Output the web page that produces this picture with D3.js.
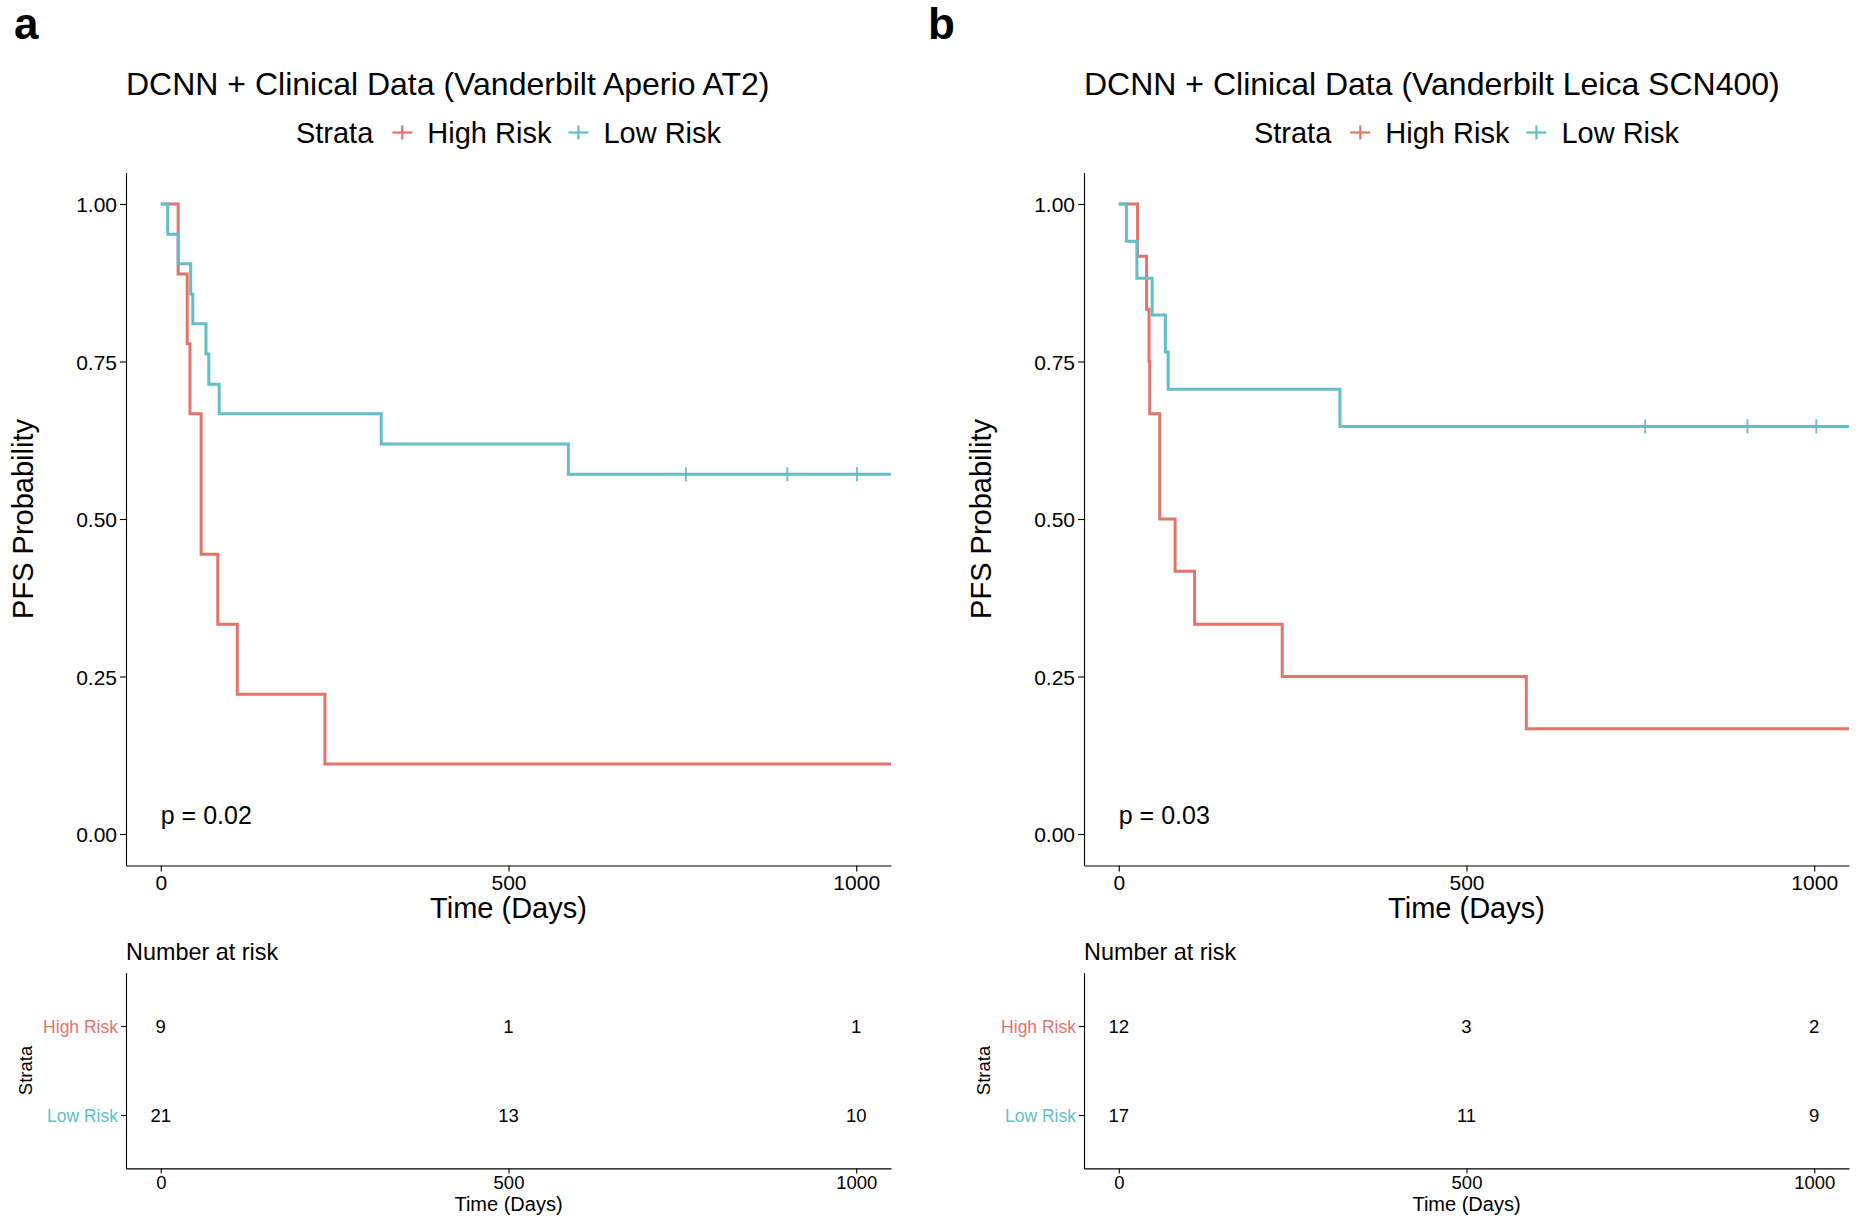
<!DOCTYPE html>
<html><head><meta charset="utf-8">
<script src="https://cdn.jsdelivr.net/npm/d3@7"></script>
<style>
body{margin:0;background:#fff}
svg{display:block}
text{font-family:"Liberation Sans", Arial, Helvetica, sans-serif}
</style>
</head><body>
<svg id="chart" width="1860" height="1220"></svg>
<script>
// ---------- data ----------
const strata = ["High Risk", "Low Risk"];
const strataColors = ["#E2746C", "#62BFC6"];
const panelLetters = ["a", "b"];
const titles = ["DCNN + Clinical Data (Vanderbilt Aperio AT2)", "DCNN + Clinical Data (Vanderbilt Leica SCN400)"];
const pValues = ["p = 0.02", "p = 0.03"];
const xTicks = [0, 500, 1000];
const yTicks = [0, 0.25, 0.5, 0.75, 1];
const riskTimes = [0, 500, 1000];

// panel a
const aHighTime = [0, 25, 38, 42, 58, 82, 110, 236];
const aHighSurv = [1, 0.889, 0.778, 0.667, 0.444, 0.333, 0.222, 0.111];
const aHighCensor = [];
const aLowTime = [0, 10, 25, 43, 46, 65, 69, 84, 317, 586];
const aLowSurv = [1, 0.952, 0.905, 0.857, 0.810, 0.762, 0.714, 0.667, 0.619, 0.571];
const aLowCensor = [755, 901, 1001];
const aRiskHigh = [9, 1, 1];
const aRiskLow = [21, 13, 10];

// panel b
const bHighTime = [0, 27, 40, 43.5, 44.5, 59, 81, 109, 235, 586];
const bHighSurv = [1, 0.917, 0.833, 0.75, 0.667, 0.5, 0.417, 0.333, 0.25, 0.167];
const bHighCensor = [];
const bLowTime = [0, 11, 26, 48, 67, 71, 318];
const bLowSurv = [1, 0.941, 0.882, 0.824, 0.765, 0.706, 0.647];
const bLowCensor = [757, 904, 1003];
const bRiskHigh = [12, 3, 2];
const bRiskLow = [17, 11, 9];

const panels = [
  {time: [aHighTime, aLowTime], surv: [aHighSurv, aLowSurv], censor: [aHighCensor, aLowCensor], risk: [aRiskHigh, aRiskLow]},
  {time: [bHighTime, bLowTime], surv: [bHighSurv, bLowSurv], censor: [bHighCensor, bLowCensor], risk: [bRiskHigh, bRiskLow]}
];

// ---------- layout ----------
const svg = d3.select("#chart");
const panelLeft = [126, 1084];
const letterX = [14, 928];
const plotW = 765;
const mainTop = 172.5, mainBottom = 865.5;
const riskTop = 972.6, riskBottom = 1168.4;
const axisStroke = 1.1;

panels.forEach((p, i) => {
  const L = panelLeft[i], R = L + plotW;
  const g = svg.append("g");
  const x = d3.scaleLinear().domain([-50, 1050]).range([L, R]);
  const y = d3.scaleLinear().domain([-0.05, 1.05]).range([mainBottom, mainTop]);

  // panel letter
  g.append("text").attr("x", letterX[i]).attr("y", 39).style("font-size", "44px").style("font-weight", "bold").style("fill", "#000").text(panelLetters[i]);
  // title
  g.append("text").attr("x", L).attr("y", 94.5).style("font-size", "32px").style("fill", "#000").text(titles[i]);

  // legend
  const lg = g.append("g");
  let cx = 0;
  const lt = lg.append("text").attr("x", cx).attr("y", 0).style("font-size", "29px").style("fill", "#000").text("Strata");
  cx += lt.node().getComputedTextLength() + 19;
  strata.forEach((s, k) => {
    const kg = lg.append("g").attr("transform", `translate(${cx},-10.5)`);
    kg.append("line").attr("x1", 0).attr("x2", 20).attr("y1", 0).attr("y2", 0).attr("stroke", strataColors[k]).attr("stroke-width", 2.2);
    kg.append("line").attr("x1", 10).attr("x2", 10).attr("y1", -7).attr("y2", 7).attr("stroke", strataColors[k]).attr("stroke-width", 2.2);
    cx += 20 + 15;
    const t = lg.append("text").attr("x", cx).attr("y", 0).style("font-size", "29px").style("fill", "#000").text(s);
    cx += t.node().getComputedTextLength() + (k < strata.length - 1 ? 17 : 0);
  });
  lg.attr("transform", `translate(${(L + R) / 2 - cx / 2},143)`);

  // axes
  const yAxis = g.append("g").attr("transform", `translate(${L},0)`)
    .call(d3.axisLeft(y).tickValues(yTicks).tickFormat(d3.format(".2f")).tickSize(6).tickSizeOuter(0).tickPadding(3));
  const xAxis = g.append("g").attr("transform", `translate(0,${mainBottom})`)
    .call(d3.axisBottom(x).tickValues(xTicks).tickFormat(d3.format("d")).tickSize(6).tickSizeOuter(0).tickPadding(4));
  [yAxis, xAxis].forEach(a => {
    a.selectAll("path.domain").attr("stroke", "#000").attr("stroke-width", axisStroke);
    a.selectAll(".tick line").attr("stroke", "#000").attr("stroke-width", axisStroke);
    a.selectAll(".tick text").style("font-size", "21px").style("fill", "#000").style("font-family", '"Liberation Sans", Arial, sans-serif');
  });
  xAxis.selectAll(".tick text").attr("dy", null).attr("y", 24);
  yAxis.selectAll(".tick text").attr("dy", "0.36em");

  // axis titles
  g.append("text").attr("x", (L + R) / 2).attr("y", 918).attr("text-anchor", "middle").style("font-size", "29px").style("fill", "#000").text("Time (Days)");
  g.append("text").attr("transform", `translate(${L - 93},${(mainTop + mainBottom) / 2}) rotate(-90)`)
    .attr("text-anchor", "middle").style("font-size", "29px").style("fill", "#000").text("PFS Probability");

  // curves (High first, Low on top)
  const line = d3.line().x(d => x(d[0])).y(d => y(d[1])).curve(d3.curveStepAfter);
  strata.forEach((s, k) => {
    const pts = p.time[k].map((t, j) => [t, p.surv[k][j]]);
    pts.push([x.domain()[1], p.surv[k][p.surv[k].length - 1]]);
    g.append("path").datum(pts).attr("d", line).attr("fill", "none")
      .attr("stroke", strataColors[k]).attr("stroke-width", 3).attr("stroke-linejoin", "miter");
    const lastS = p.surv[k][p.surv[k].length - 1];
    g.selectAll(null).data(p.censor[k]).enter().append("line")
      .attr("x1", d => x(d)).attr("x2", d => x(d))
      .attr("y1", y(lastS) - 7).attr("y2", y(lastS) + 7)
      .attr("stroke", strataColors[k]).attr("stroke-width", 1.8);
  });

  // p-value
  g.append("text").attr("x", x(0)).attr("y", y(0.03) + 9).style("font-size", "25px").style("fill", "#000").text(pValues[i]);

  // ---------- risk table ----------
  g.append("text").attr("x", L).attr("y", 959.5).style("font-size", "23.4px").style("fill", "#000").text("Number at risk");
  const yr = d3.scalePoint().domain(strata).range([riskTop, riskBottom]).padding(0.6);
  const ryAxis = g.append("g").attr("transform", `translate(${L},0)`)
    .call(d3.axisLeft(yr).tickSize(5).tickSizeOuter(0).tickPadding(3));
  const rxAxis = g.append("g").attr("transform", `translate(0,${riskBottom})`)
    .call(d3.axisBottom(x).tickValues(xTicks).tickFormat(d3.format("d")).tickSize(5).tickSizeOuter(0).tickPadding(3));
  [ryAxis, rxAxis].forEach(a => {
    a.selectAll("path.domain").attr("stroke", "#000").attr("stroke-width", axisStroke);
    a.selectAll(".tick line").attr("stroke", "#000").attr("stroke-width", axisStroke);
    a.selectAll(".tick text").style("font-family", '"Liberation Sans", Arial, sans-serif');
  });
  ryAxis.selectAll(".tick text").style("font-size", "17.5px").attr("dy", "0.36em")
    .style("fill", d => strataColors[strata.indexOf(d)]);
  rxAxis.selectAll(".tick text").style("font-size", "18.5px").style("fill", "#000").attr("dy", null).attr("y", 21);
  g.append("text").attr("x", (L + R) / 2).attr("y", 1211).attr("text-anchor", "middle").style("font-size", "20px").style("fill", "#000").text("Time (Days)");
  g.append("text").attr("transform", `translate(${L - 94},${(riskTop + riskBottom) / 2}) rotate(-90)`)
    .attr("text-anchor", "middle").style("font-size", "18.5px").style("fill", "#000").text("Strata");

  strata.forEach((s, k) => {
    g.selectAll(null).data(riskTimes.map((t, j) => [t, p.risk[k][j]])).enter().append("text")
      .attr("x", d => x(d[0])).attr("y", yr(s)).attr("dy", "0.36em").attr("text-anchor", "middle")
      .style("font-size", "18.5px").style("fill", "#000").text(d => d[1]);
  });
});
</script>
</body></html>
